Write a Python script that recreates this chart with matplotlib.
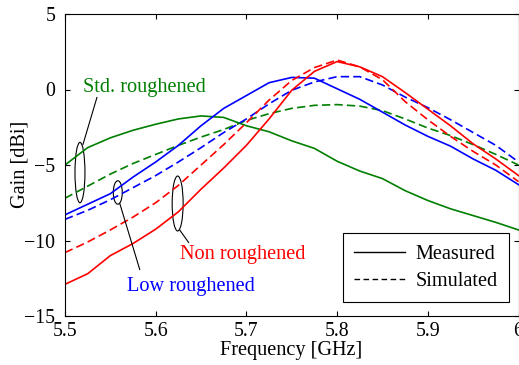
import matplotlib
matplotlib.use('Agg')
import matplotlib.pyplot as plt
from matplotlib.patches import Ellipse
from matplotlib.lines import Line2D
from matplotlib.ticker import FormatStrFormatter

plt.rcParams['font.family'] = 'serif'
plt.rcParams['font.serif'] = ['Liberation Serif', 'DejaVu Serif']

# Frequency grid [GHz]
freq = [5.500, 5.525, 5.550, 5.575, 5.600, 5.625, 5.650, 5.675, 5.700, 5.725, 5.750,
        5.775, 5.800, 5.825, 5.850, 5.875, 5.900, 5.925, 5.950, 5.975, 6.000]

# Gain [dBi]
std_meas = [-5.0, -3.85, -3.2, -2.7, -2.3, -1.95, -1.75, -1.85, -2.4, -2.8, -3.4,
            -3.9, -4.75, -5.4, -5.9, -6.7, -7.35, -7.9, -8.35, -8.8, -9.3]
std_sim = [-7.2, -6.4, -5.6, -4.9, -4.3, -3.7, -3.15, -2.65, -2.05, -1.6, -1.25,
           -1.05, -1.0, -1.1, -1.4, -1.95, -2.55, -3.05, -3.65, -4.3, -5.0]
low_meas = [-8.3, -7.6, -6.9, -5.8, -4.8, -3.7, -2.4, -1.25, -0.4, 0.45, 0.8,
            0.75, 0.05, -0.65, -1.5, -2.35, -3.1, -3.75, -4.6, -5.35, -6.3]
low_sim = [-8.6, -8.0, -7.3, -6.5, -5.7, -4.8, -3.85, -2.85, -1.95, -0.95, -0.05,
           0.5, 0.85, 0.85, 0.3, -0.5, -1.2, -2.0, -2.85, -3.7, -4.8]
non_meas = [-12.9, -12.2, -11.0, -10.2, -9.25, -8.1, -6.6, -5.2, -3.7, -1.95, -0.05,
            1.2, 1.85, 1.5, 0.85, -0.2, -1.3, -2.4, -3.6, -4.6, -5.7]
non_sim = [-10.8, -10.1, -9.3, -8.45, -7.5, -6.35, -5.0, -3.65, -2.2, -0.7, 0.6,
           1.45, 1.95, 1.5, 0.65, -0.8, -2.0, -3.1, -4.1, -5.0, -6.1]

x_ticks = [5.5, 5.6, 5.7, 5.8, 5.9, 6.0]
y_ticks = [-15, -10, -5, 0, 5]

RED = '#ff0000'
BLUE = '#0000ff'
GREEN = '#007f00'
DASH = (0, (5, 2.5))
LW = 1.2
FS = 14.6

fig = plt.figure(figsize=(5.19, 3.65), dpi=100, facecolor='white')
ax = fig.add_axes([65 / 519, 1 - 316 / 365, 453.5 / 519, 302 / 365])

ax.plot(freq, std_meas, color=GREEN, lw=LW)
ax.plot(freq, std_sim, color=GREEN, lw=LW, linestyle=DASH)
ax.plot(freq, low_meas, color=BLUE, lw=LW)
ax.plot(freq, low_sim, color=BLUE, lw=LW, linestyle=DASH)
ax.plot(freq, non_meas, color=RED, lw=LW)
ax.plot(freq, non_sim, color=RED, lw=LW, linestyle=DASH)

ax.set_xlim(5.5, 6.0)
ax.set_ylim(-15, 5)
ax.set_xticks(x_ticks)
ax.set_yticks(y_ticks)
ax.xaxis.set_major_formatter(FormatStrFormatter('%g'))
ax.tick_params(direction='in', top=True, right=True, length=3.5, width=0.8,
               labelsize=14.3)
ax.tick_params(axis='x', pad=4.5)
ax.tick_params(axis='y', pad=7)
for s in ax.spines.values():
    s.set_linewidth(0.8)

# axis labels placed where the reference has them
fig.text(291 / 519, 1 - 351 / 365, 'Frequency [GHz]', fontsize=FS,
         ha='center', va='center')
fig.text(20 / 519, 1 - 164 / 365, 'Gain [dBi]', fontsize=FS, rotation=90,
         ha='center', va='center')

# annotations: ellipses, leader lines and labels
ann_kw = dict(facecolor='none', edgecolor='black', lw=0.8)
ax.add_patch(Ellipse((5.5165, -5.5), 0.011, 4.0, **ann_kw))
ax.plot([5.5352, 5.5198], [-0.53, -3.64], color='black', lw=0.8)
ax.text(5.5198, 0.13, 'Std. roughened', color=GREEN, fontsize=FS,
        ha='left', va='center')

ax.add_patch(Ellipse((5.5582, -6.82), 0.0099, 1.55, **ann_kw))
ax.plot([5.5604, 5.5824], [-7.55, -11.92], color='black', lw=0.8)
ax.text(5.5681, -13.05, 'Low roughened', color=BLUE, fontsize=FS,
        ha='left', va='center')

ax.add_patch(Ellipse((5.6242, -7.55), 0.0121, 3.64, **ann_kw))
ax.plot([5.6264, 5.6363], [-9.3, -10.13], color='black', lw=0.8)
ax.text(5.6264, -10.93, 'Non roughened', color=RED, fontsize=FS,
        ha='left', va='center')

handles = [Line2D([], [], color='black', lw=1.0),
           Line2D([], [], color='black', lw=1.0, linestyle=(0, (4, 2.5)))]
leg = ax.legend(handles, ['Measured', 'Simulated'], loc='lower right',
                bbox_to_anchor=(0.978, 0.046), fontsize=FS, fancybox=False,
                framealpha=1, edgecolor='black', handlelength=2.5,
                borderpad=0.55, labelspacing=0.4, handletextpad=0.5,
                borderaxespad=0)
leg.get_frame().set_linewidth(0.8)

fig.savefig('out.png', dpi=100, facecolor='white')
